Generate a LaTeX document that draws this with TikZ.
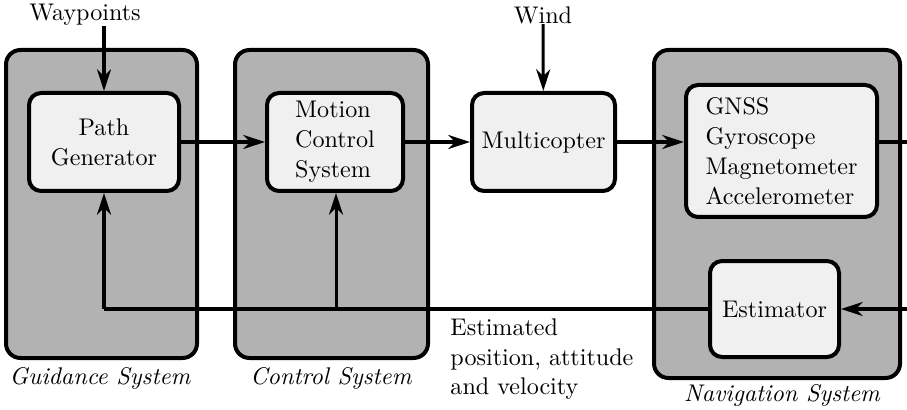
\documentclass[tikz,border=0pt]{standalone}
\usetikzlibrary{arrows.meta}
\newdimen\upx
\upx=0.415pt
\begin{document}
\begin{tikzpicture}[x=0.415pt,y=-0.415pt,
  outerbox/.style={draw, line width=1.66pt, fill=black!30, rounded corners=6pt, inner sep=0pt},
  blockbox/.style={draw, line width=1.66pt, fill=black!6, rounded corners=5pt, inner sep=0pt, font=\fontsize{10}{12.4}\selectfont},
  lbl/.style={inner sep=0pt},
  syslbl/.style={inner sep=0pt, font=\itshape},
  conn/.style={line width=1.25pt},
  arr/.style={conn, -{Stealth[length=9pt,width=5.8pt,inset=2.8pt]}}
]
\useasboundingbox (0,0) rectangle (907,410);

% system groups
\node[outerbox, minimum width=191\upx, minimum height=308\upx] (gsys) at (101.5,204) {};
\node[outerbox, minimum width=193\upx, minimum height=308\upx] (csys) at (331.5,204) {};
\node[outerbox, minimum width=246\upx, minimum height=328\upx] (nsys) at (777,214) {};

% blocks
\node[blockbox, minimum width=150\upx, minimum height=98\upx, align=center] (pg) at (104,142) {Path\\Generator};
\node[blockbox, minimum width=136\upx, minimum height=98\upx, align=left] (mcs) at (335,142) {Motion\\Control\\System};
\node[blockbox, minimum width=143\upx, minimum height=98\upx] (mc) at (543.5,142) {Multicopter};
\node[blockbox, minimum width=191\upx, minimum height=132\upx, align=left] (sens) at (781.5,151) {GNSS\\Gyroscope\\Magnetometer\\Accelerometer};
\node[blockbox, minimum width=129\upx, minimum height=96\upx] (est) at (774.5,309) {Estimator};

% labels
\node[lbl] (wp) at (85,15) {Waypoints};
\node[lbl] (wind) at (543,15) {Wind};
\node[syslbl] (glbl) at (100,378) {Guidance System};
\node[syslbl] (clbl) at (331,378) {Control System};
\node[syslbl] (nlbl) at (782,395) {Navigation System};
\node[lbl, anchor=north west, align=left, font=\fontsize{10}{12.4}\selectfont] (estlbl) at (450,318) {Estimated\\position, attitude\\and velocity};

% free ends
\coordinate (sout) at (907,142);
\coordinate (ein) at (907,309);
\coordinate (fbpg) at (104,309);
\coordinate (fbmcs) at (336,309);

% connectors
\draw[arr] (pg |- wp.south) -- (pg);
\draw[arr] (wind) -- (mc);
\draw[arr] (pg) -- (mcs);
\draw[arr] (mcs) -- (mc);
\draw[arr] (mc) -- (mc -| sens.west);
\draw[conn] (sens.east |- mc) -- (sout);
\draw[arr] (ein) -- (est);
\draw[conn] (est) -- (fbpg);
\draw[arr] (fbpg) -- (pg);
\draw[arr] (fbmcs) -- (fbmcs |- mcs.south);
\end{tikzpicture}
\end{document}
